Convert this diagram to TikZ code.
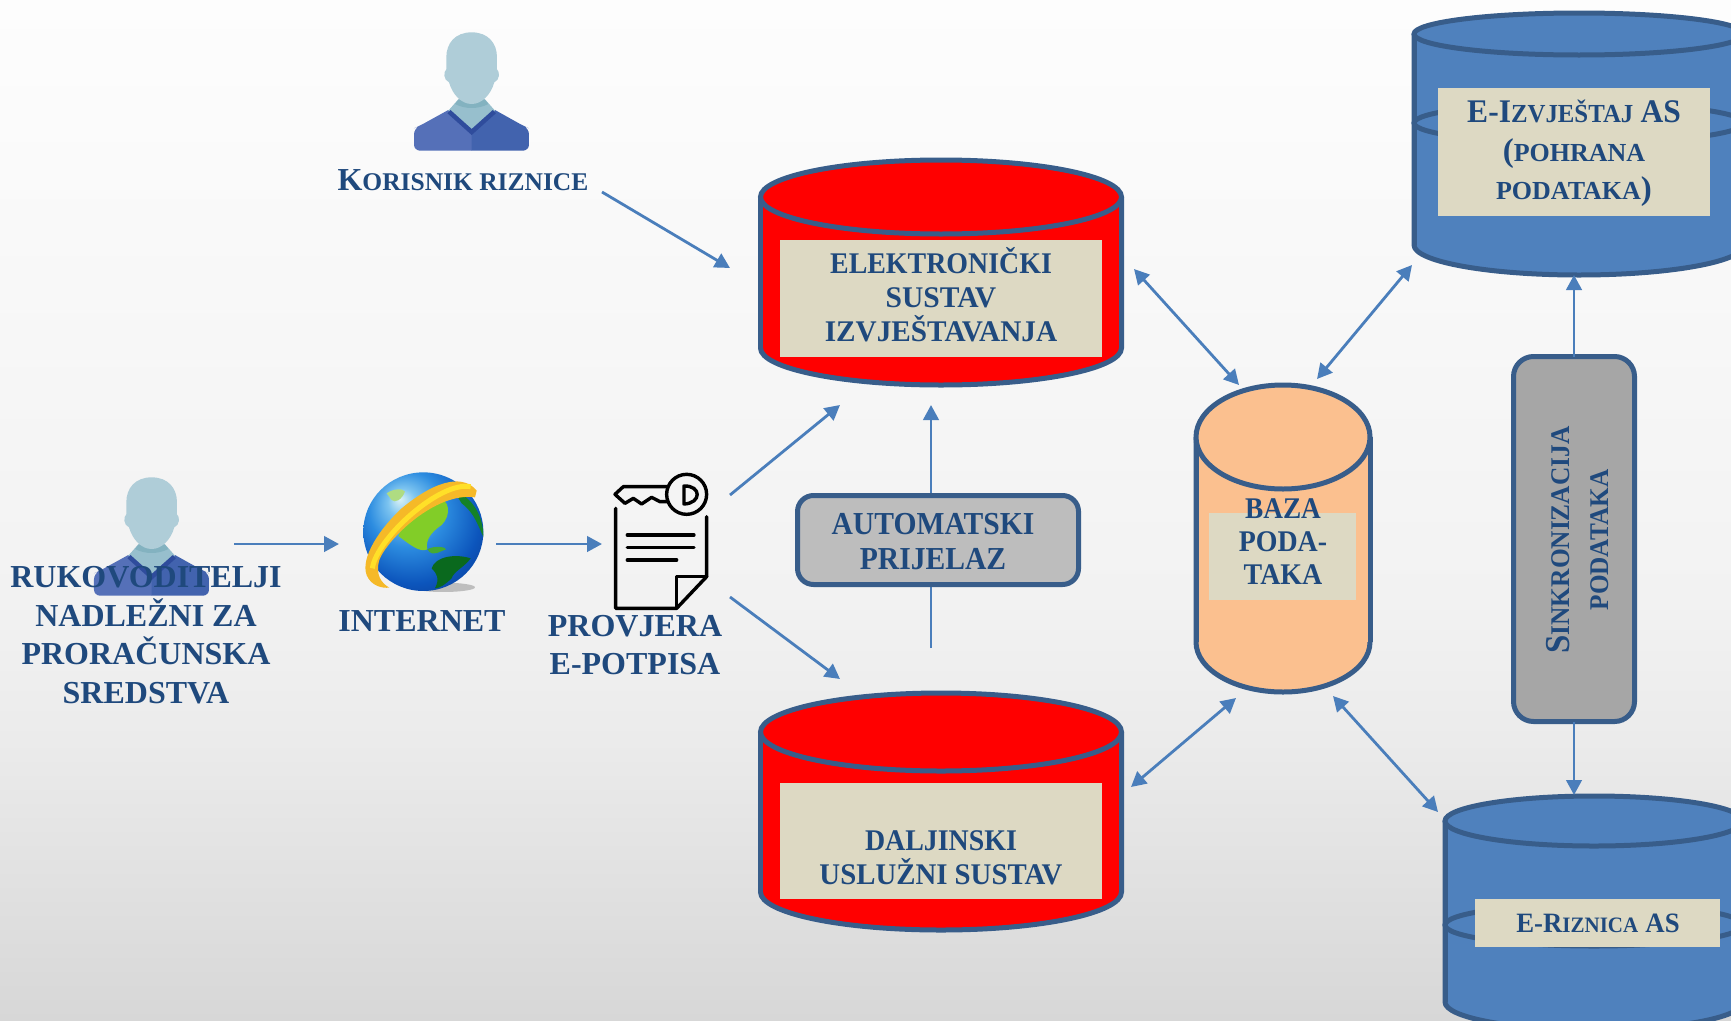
\documentclass[tikz,border=0pt]{standalone}
\usepackage{fontspec}
\usepackage{graphicx}
\setmainfont{Liberation Serif}
\usetikzlibrary{arrows.meta}
\definecolor{txtblue}{HTML}{1F497D}
\definecolor{edgeblue}{HTML}{385D8A}
\definecolor{arrowblue}{HTML}{4A7EBB}
\definecolor{cylblue}{HTML}{4F81BD}
\definecolor{cylorange}{HTML}{FBC08F}
\definecolor{labelbg}{HTML}{DDD9C3}
\definecolor{bgA}{HTML}{D7D7D7}
\definecolor{bgB}{HTML}{EBEBEB}
\definecolor{bgC}{HTML}{F2F2F2}
\definecolor{bgD}{HTML}{F7F7F7}
\definecolor{bgE}{HTML}{FDFDFD}
\definecolor{gloA}{HTML}{DDF3F5}
\definecolor{gloB}{HTML}{7CC4F0}
\definecolor{gloC}{HTML}{2C8CE0}
\definecolor{gloD}{HTML}{0C55BC}
\definecolor{gloE}{HTML}{0A3A90}
\pgfdeclareverticalshading{pagebg}{100bp}{
 color(0bp)=(bgA); color(25bp)=(bgA); color(38.7bp)=(bgB); color(45.6bp)=(bgC); color(58.3bp)=(bgD); color(75bp)=(bgE); color(100bp)=(bgE)}
\pgfdeclareradialshading{globeshade}{\pgfpoint{-10bp}{14bp}}{
 color(0bp)=(gloA); color(6bp)=(gloB); color(16bp)=(gloC); color(28bp)=(gloD); color(38bp)=(gloE); color(50bp)=(gloE)}
\newcommand{\fs}[1]{\fontsize{#1}{#1}\selectfont}
\newcommand{\nar}[2][.93]{\scalebox{#1}[1]{#2}}
% cx, rx, ytop-ellipse-centre, ry-top, ybottom-corner, ry-bottom, fill
\newcommand{\cylinder}[7]{%
 \pgfmathsetmacro{\cL}{#1-#2}\pgfmathsetmacro{\cR}{#1+#2}%
 \pgfmathsetmacro{\kx}{0.5523*#2}\pgfmathsetmacro{\cA}{#1-\kx}\pgfmathsetmacro{\cB}{#1+\kx}%
 \pgfmathsetmacro{\cY}{#5+#6}\pgfmathsetmacro{\cK}{#5+0.5523*#6}%
 \draw[cyl,fill=#7] (\cL,#3) -- (\cL,#5) .. controls (\cL,\cK) and (\cA,\cY) .. (#1,\cY) .. controls (\cB,\cY) and (\cR,\cK) .. (\cR,#5) -- (\cR,#3);
 \fill[#7] (\cL,#3) rectangle (\cR,#5);
 \draw[cyl] (\cL,#3) -- (\cL,#5) (\cR,#3) -- (\cR,#5);
 \draw[cyl,fill=#7] (#1,#3) ellipse [x radius=#2,y radius=#4];
}
\tikzset{
 x=1pt,y=-1pt,
 cyl/.style={draw=edgeblue,line width=5pt},
 midring/.style={draw=edgeblue,line width=5pt},
 lbl/.style={fill=labelbg,inner sep=0pt,outer sep=0pt},
 txt/.style={text=txtblue,font=\bfseries\fs{30},align=center,inner sep=0pt,outer sep=0pt,text height=20pt,text depth=0pt},
 conn/.style={draw=arrowblue,line width=2.8pt,-{Triangle[length=15pt,width=15.5pt]}},
 bidir/.style={draw=arrowblue,line width=2.8pt,{Triangle[length=15pt,width=15.5pt]}-{Triangle[length=15pt,width=15.5pt]}},
 roundbox/.style={draw=edgeblue,line width=5pt,rounded corners=16pt,inner sep=0pt,outer sep=0pt},
 ink/.style={draw=black,line width=3.4pt,line cap=round,line join=round}
}
\newcommand{\person}[2]{%
 \begin{scope}[shift={(#1,#2)},x=0.3333pt,y=-0.3333pt]
  \fill[fill={rgb,255:red,85;green,112;blue,184}] (276,452) [rounded corners=6pt] -- (102,452) -- (102,385) -- (118,378) [sharp corners] -- (205,330) -- (276,390) -- cycle;
  \fill[fill={rgb,255:red,66;green,99;blue,174}] (275,452) [rounded corners=6pt] -- (447,452) -- (447,385) -- (431,378) [sharp corners] -- (345,330) -- (275,390) -- cycle;
  \fill[fill={rgb,255:red,151;green,191;blue,205}] (235,298) -- (315,298) -- (345,332) -- (275,392) -- (205,332) -- cycle;
  \fill[fill={rgb,255:red,131;green,178;blue,192}] (236,298) -- (314,298) -- (325,312) .. controls (295,328) and (255,328) .. (225,312) -- cycle;
  \draw[draw={rgb,255:red,47;green,76;blue,156},line width=4.5pt] (207,335) -- (275,396) -- (343,335);
  \fill[fill={rgb,255:red,175;green,205;blue,216}] (275,97) .. controls (225,97) and (199,130) .. (199,172) -- (199,208) .. controls (190,215) and (190,240) .. (207,247) .. controls (218,285) and (245,312) .. (275,312) .. controls (305,312) and (332,285) .. (343,247) .. controls (360,240) and (360,215) .. (351,208) -- (351,172) .. controls (351,130) and (325,97) .. (275,97) -- cycle;
 \end{scope}%
}
\begin{document}
\begin{tikzpicture}
\path[use as bounding box,clip] (0,0) rectangle (1731,1020);
\shade[shading=pagebg] (0,0) rectangle (1731,1020);

% persons
\person{380}{0}
\person{60}{445}

% free ends of connectors
\coordinate (uS) at (602,192); \coordinate (uE) at (730,268);
\coordinate (pS) at (234,544); \coordinate (pE) at (339,544);
\coordinate (gS) at (496,544); \coordinate (gE) at (602,544);
\coordinate (kS) at (730,495); \coordinate (kE) at (840,405);
\coordinate (kS2) at (730,597); \coordinate (kE2) at (840,679);
\coordinate (aS) at (931,648); \coordinate (aE) at (931,405);
\coordinate (r1) at (1134,269); \coordinate (b1) at (1239,385);
\coordinate (t1) at (1412,265); \coordinate (b2) at (1317,379);
\coordinate (r2) at (1131,787); \coordinate (b3) at (1236,698);
\coordinate (t2) at (1438,812); \coordinate (b4) at (1333,696);
\coordinate (t1b) at (1574,275); \coordinate (t2b) at (1574,795);

% cylinders
\cylinder{941}{180.5}{197}{37}{348}{37}{red}
\cylinder{941}{180.5}{732}{39}{892}{38}{red}
\cylinder{1283}{87}{437}{52}{642}{50}{cylorange}
\cylinder{1579}{165}{34}{21}{245}{30}{cylblue}
\draw[midring] (1579,123) ellipse [x radius=165,y radius=20];
\cylinder{1594}{149}{821}{25}{1002}{28}{cylblue}
\draw[midring] (1594,925) ellipse [x radius=149,y radius=21];

% label plates
\node[lbl,minimum width=322pt,minimum height=117pt] (lab1) at (941,298.5) {};
\node[lbl,minimum width=322pt,minimum height=116pt] (lab2) at (941,840.5) {};
\node[lbl,minimum width=147pt,minimum height=87pt] (lab3) at (1282.5,556.5) {};
\node[lbl,minimum width=272pt,minimum height=128pt] (lab4) at (1574,152) {};
\node[lbl,minimum width=245pt,minimum height=48pt] (lab5) at (1597.5,923) {};

% connectors
\draw[conn] (uS) -- (uE);
\draw[conn] (pS) -- (pE);
\draw[conn] (gS) -- (gE);
\draw[conn] (kS) -- (kE);
\draw[conn] (kS2) -- (kE2);
\draw[conn] (aS) -- (aE);
\draw[bidir] (r1) -- (b1);
\draw[bidir] (t1) -- (b2);
\draw[bidir] (r2) -- (b3);
\draw[bidir] (t2) -- (b4);

% boxes
\node[roundbox,fill={rgb,255:red,189;green,189;blue,189},minimum width=281pt,minimum height=89pt] (auto) at (938,540) {};
\node[roundbox,fill={rgb,255:red,166;green,166;blue,166},minimum width=121pt,minimum height=365pt,rounded corners=20pt] (sync) at (1574,539) {};
\draw[conn] (sync.north) -- (t1b);
\draw[conn] (sync.south) -- (t2b);

% globe
\begin{scope}[shift={(340,460)},x=0.3333pt,y=-0.3333pt]
 \fill[black!45,opacity=.5] (310,382) ellipse [x radius=95,y radius=14];
 \shade[shading=globeshade] (250,215) ellipse [x radius=180,y radius=178];
 \fill[fill={rgb,255:red,130;green,205;blue,40}] (175,228) .. controls (195,180) and (240,125) .. (290,115) .. controls (330,115) and (335,165) .. (305,195) .. controls (275,215) and (255,240) .. (262,268) .. controls (240,280) and (205,250) .. (175,228) -- cycle;
 \fill[fill={rgb,255:red,70;green,170;blue,50}] (262,268) .. controls (285,255) and (320,262) .. (318,268) .. controls (300,272) and (280,295) .. (262,268) -- cycle;
 \fill[fill={rgb,255:red,10;green,105;blue,30}] (275,325) .. controls (285,290) and (345,280) .. (392,295) .. controls (375,320) and (340,335) .. (335,355) .. controls (320,370) and (300,385) .. (285,385) .. controls (300,355) and (290,340) .. (275,325) -- cycle;
 \fill[fill={rgb,255:red,20;green,130;blue,40}] (340,90) .. controls (395,110) and (430,165) .. (430,230) .. controls (415,200) and (405,160) .. (365,130) -- cycle;
 \fill[fill={rgb,255:red,175;green,220;blue,130}] (140,100) .. controls (160,85) and (190,85) .. (195,95) .. controls (185,120) and (165,130) .. (155,120) -- cycle;
 \fill[fill={rgb,255:red,245;green,185;blue,40}] (410,92) .. controls (375,48) and (300,50) .. (185,145) .. controls (105,220) and (55,310) .. (85,355) .. controls (100,378) and (125,385) .. (148,383) .. controls (125,370) and (105,345) .. (118,300) .. controls (140,240) and (285,95) .. (405,112) -- cycle;
 \draw[draw={rgb,255:red,255;green,224;blue,40},line width=5pt] (392,80) .. controls (300,62) and (110,235) .. (97,325);
\end{scope}

% signature document
\begin{scope}[shift={(340,460)},x=0.3333pt,y=-0.3333pt]
 \draw[ink] (1040,103) circle [radius=60];
 \draw[ink] (1032,78) -- (1032,132) .. controls (1085,130) and (1085,76) .. (1032,78) -- cycle;
 \draw[ink] (985,80) -- (850,80) -- (825,103) -- (855,130) -- (880,115) -- (905,132) -- (935,112) -- (960,125) -- (985,125);
 \draw[ink] (827,145) -- (827,445) -- (1010,445) -- (1100,350) -- (1100,170);
 \draw[ink] (1010,445) -- (1010,350) -- (1100,350);
 \draw[ink] (862,225) -- (1062,225);
 \draw[ink] (862,262) -- (1062,262);
 \draw[ink] (862,300) -- (1010,300);
\end{scope}

% texts
\node[txt] (korisnik) at (463,180) {{\fs{32}K}{\fs{25.5}ORISNIK RIZNICE}};
\node[txt,font=\bfseries\fs{32}] (ruk1) at (146,577) {RUKOVODITELJI};
\node[txt,font=\bfseries\fs{32}] (ruk2) at (146,616) {NADLEŽNI ZA};
\node[txt,font=\bfseries\fs{32}] (ruk3) at (146,654) {PRORAČUNSKA};
\node[txt,font=\bfseries\fs{32}] (ruk4) at (146,693) {SREDSTVA};
\node[txt,font=\bfseries\fs{32}] (inet) at (422,621) {INTERNET};
\node[txt,font=\bfseries\fs{32}] (prov1) at (635,626) {PROVJERA};
\node[txt,font=\bfseries\fs{32}] (prov2) at (635,664) {E-POTPISA};
\node[txt] (el1) at (941,263) {\nar{ELEKTRONIČKI}};
\node[txt] (el2) at (941,297) {\nar[.985]{SUSTAV}};
\node[txt] (el3) at (941,331) {\nar[.975]{IZVJEŠTAVANJA}};
\node[txt] (da1) at (941,840) {\nar{DALJINSKI}};
\node[txt] (da2) at (941,874) {\nar[.96]{USLUŽNI SUSTAV}};
\node[txt,font=\bfseries\fs{32}] (au1) at (933,524) {\nar[.925]{AUTOMATSKI}};
\node[txt,font=\bfseries\fs{32}] (au2) at (933,559) {\nar[.925]{PRIJELAZ}};
\node[txt] (ba1) at (1283,508) {\nar[.91]{BAZA}};
\node[txt] (ba2) at (1283,541) {\nar[.93]{PODA-}};
\node[txt] (ba3) at (1283,574) {\nar[.93]{TAKA}};
\node[txt] (iz1) at (1574,112) {\nar[.955]{{\fs{33}E-I}{\fs{26}ZVJEŠTAJ} {\fs{33}AS}}};
\node[txt] (iz2) at (1574,151) {{\fs{33}(}{\fs{26}POHRANA}};
\node[txt] (iz3) at (1574,189) {{\fs{26}PODATAKA}{\fs{33})}};
\node[txt] (ri) at (1598,922) {\nar[.955]{{\fs{28}E-R}{\fs{22}IZNICA} {\fs{28}AS}}};
\node[txt,rotate=90] (si1) at (1559,540) {\nar[.94]{{\fs{35}S}{\fs{27}INKRONIZACIJA}}};
\node[txt,rotate=90] (si2) at (1598,540) {\nar[.935]{\fs{27}PODATAKA}};
\end{tikzpicture}
\end{document}
